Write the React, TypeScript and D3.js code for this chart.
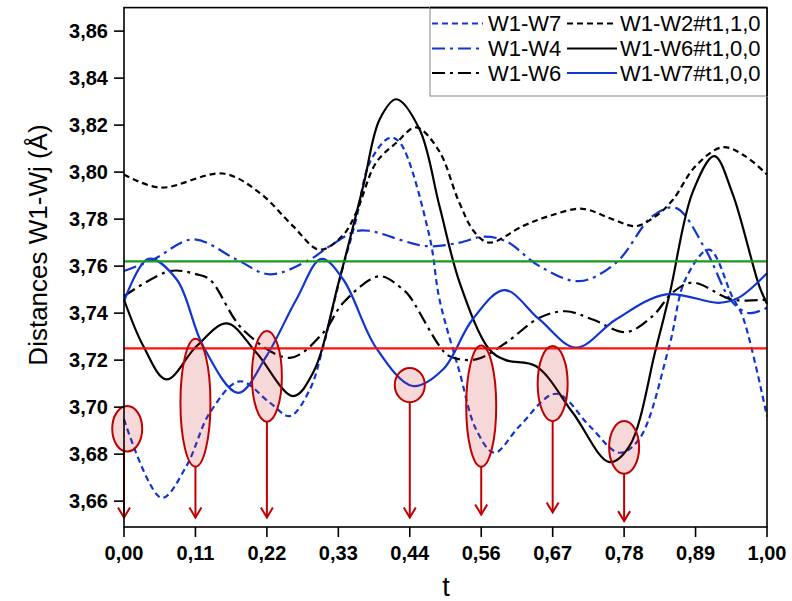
import React from "react";
import * as d3 from "d3";

// ---- data ----
const T_W1W7 = [0, 0.0585, 0.097, 0.1335, 0.18, 0.2267, 0.258, 0.289, 0.31, 0.3354, 0.361, 0.382, 0.413, 0.429, 0.475, 0.4907, 0.522, 0.5476, 0.576, 0.615, 0.672, 0.724, 0.77, 0.801, 0.848, 0.873, 0.91, 0.946, 0.962, 1.0];
const V_W1W7 = [3.6948, 3.6614, 3.6749, 3.6976, 3.711, 3.7019, 3.6962, 3.7075, 3.726, 3.7543, 3.7799, 3.804, 3.8146, 3.8126, 3.7728, 3.7458, 3.7148, 3.6905, 3.6806, 3.6919, 3.7057, 3.692, 3.6806, 3.6863, 3.726, 3.7543, 3.767, 3.747, 3.7387, 3.696];

const T_W1W4 = [0, 0.0455, 0.1077, 0.175, 0.2267, 0.289, 0.32, 0.361, 0.382, 0.47, 0.522, 0.558, 0.594, 0.646, 0.708, 0.765, 0.822, 0.858, 0.9045, 0.945, 0.972, 1.0];
const V_W1W4 = [3.7579, 3.7628, 3.7714, 3.7628, 3.7565, 3.7628, 3.7685, 3.7749, 3.775, 3.7685, 3.7700, 3.7725, 3.7706, 3.76, 3.7536, 3.7614, 3.7813, 3.7848, 3.767, 3.745, 3.740, 3.7423];

const T_W1W6 = [0, 0.0714, 0.113, 0.1335, 0.185, 0.258, 0.31, 0.341, 0.3975, 0.434, 0.4441, 0.4907, 0.506, 0.5476, 0.594, 0.646, 0.687, 0.729, 0.7806, 0.822, 0.853, 0.884, 0.946, 1.0];
const V_W1W6 = [3.7472, 3.7579, 3.7565, 3.7543, 3.733, 3.721, 3.7317, 3.7444, 3.7557, 3.75, 3.7472, 3.726, 3.7217, 3.7203, 3.7274, 3.738, 3.7408, 3.7373, 3.7319, 3.7387, 3.7487, 3.753, 3.7458, 3.7458];

const T_W1W2_110 = [0, 0.056, 0.154, 0.211, 0.263, 0.304, 0.34, 0.361, 0.392, 0.4235, 0.4545, 0.49, 0.52, 0.545, 0.568, 0.62, 0.661, 0.713, 0.76, 0.796, 0.827, 0.853, 0.889, 0.931, 0.966, 1.0];
const V_W1W2_110 = [3.799, 3.7934, 3.7994, 3.7912, 3.777, 3.767, 3.773, 3.7827, 3.804, 3.8125, 3.819, 3.809, 3.788, 3.7745, 3.770, 3.777, 3.7813, 3.7844, 3.7799, 3.777, 3.7813, 3.788, 3.8026, 3.8106, 3.8068, 3.799];

const T_W1W6_100 = [0, 0.03, 0.066, 0.113, 0.16, 0.206, 0.263, 0.294, 0.335, 0.372, 0.3975, 0.4235, 0.4596, 0.4907, 0.522, 0.568, 0.594, 0.641, 0.698, 0.755, 0.786, 0.827, 0.849, 0.884, 0.918, 0.946, 0.988, 1.0];
const V_W1W6_100 = [3.7458, 3.726, 3.7118, 3.726, 3.7356, 3.7231, 3.7047, 3.7146, 3.7543, 3.794, 3.8224, 3.831, 3.8182, 3.7855, 3.753, 3.7246, 3.720, 3.7174, 3.6976, 3.6766, 3.6834, 3.7246, 3.7487, 3.7912, 3.8068, 3.7912, 3.7515, 3.744];

const T_W1W7_100 = [0, 0.038, 0.082, 0.123, 0.1775, 0.2215, 0.268, 0.307, 0.341, 0.392, 0.449, 0.496, 0.542, 0.5916, 0.646, 0.703, 0.765, 0.843, 0.925, 0.956, 1.0];
const V_W1W7_100 = [3.745, 3.7631, 3.7543, 3.726, 3.7061, 3.7217, 3.7458, 3.7631, 3.7543, 3.7253, 3.709, 3.716, 3.7373, 3.7498, 3.7373, 3.7253, 3.7373, 3.748, 3.7444, 3.7466, 3.757];

const SERIES_NAMES = ["W1-W7", "W1-W4", "W1-W6", "W1-W2#t1,1,0", "W1-W6#t1,0,0", "W1-W7#t1,0,0"];

const GREEN_LEVEL = 3.762;
const RED_LEVEL = 3.725;

const X_TICKS = [0, 1 / 9, 2 / 9, 3 / 9, 4 / 9, 5 / 9, 6 / 9, 7 / 9, 8 / 9, 1];
const X_TICK_LABELS = ["0,00", "0,11", "0,22", "0,33", "0,44", "0,56", "0,67", "0,78", "0,89", "1,00"];
const Y_TICKS = [3.66, 3.68, 3.70, 3.72, 3.74, 3.76, 3.78, 3.80, 3.82, 3.84, 3.86];

// annotations (data coordinates)
const ELLIPSE_T = [0.005, 1 / 9, 2 / 9, 4 / 9, 5 / 9, 6 / 9, 7 / 9];
const ELLIPSE_V = [3.6908, 3.7019, 3.7131, 3.7094, 3.7004, 3.71, 3.6829];
const ELLIPSE_HALF = [0.0097, 0.0272, 0.0193, 0.0073, 0.0258, 0.016, 0.0112];
const ARROW_T = [0, 1 / 9, 2 / 9, 4 / 9, 5 / 9, 6 / 9, 7 / 9];
const ARROW_END = [3.653, 3.653, 3.653, 3.653, 3.6543, 3.6552, 3.6515];

const BLUE = "#1035d0";
const FONT = "'Liberation Sans', Arial, sans-serif";

export default function App() {
  const W = 792, H = 601;
  const x = d3.scaleLinear().domain([0, 1]).range([124, 767]);
  const y = d3.scaleLinear().domain([3.649, 3.870]).range([527, 7.6]);

  const line = d3
    .line<[number, number]>()
    .x((d) => x(d[0]))
    .y((d) => y(d[1]))
    .curve(d3.curveCatmullRom.alpha(0.5));

  const zip = (t: number[], v: number[]) => t.map((tt, i) => [tt, v[i]] as [number, number]);

  const series = [
    { name: SERIES_NAMES[0], d: zip(T_W1W7, V_W1W7), color: BLUE, dash: "6,4" },
    { name: SERIES_NAMES[1], d: zip(T_W1W4, V_W1W4), color: BLUE, dash: "13,5,3,5" },
    { name: SERIES_NAMES[2], d: zip(T_W1W6, V_W1W6), color: "#000", dash: "13,5,3,5" },
    { name: SERIES_NAMES[3], d: zip(T_W1W2_110, V_W1W2_110), color: "#000", dash: "6,4" },
    { name: SERIES_NAMES[4], d: zip(T_W1W6_100, V_W1W6_100), color: "#000", dash: "" },
    { name: SERIES_NAMES[5], d: zip(T_W1W7_100, V_W1W7_100), color: BLUE, dash: "" },
  ];

  const x0 = x.range()[0], x1 = x.range()[1];
  const yTop = y.range()[1], yBot = y.range()[0];
  const dark = "#c00000";

  // legend layout
  const legRows = [23.5, 48.5, 73];
  const legCols = [{ l0: 432, l1: 483, tx: 488 }, { l0: 567, l1: 617, tx: 620 }];

  return (
    <svg width={W} height={H} style={{ position: "absolute", left: 0, top: 0, background: "#fff" }} fontFamily={FONT}>
      <rect x={0} y={0} width={W} height={H} fill="#fff" />
      {/* curves */}
      {series.map((s, i) => (
        <path key={i} d={line(s.d) || ""} fill="none" stroke={s.color} strokeWidth={2.2} strokeDasharray={s.dash || undefined} />
      ))}
      {/* reference lines */}
      <line x1={x0} x2={x1} y1={y(GREEN_LEVEL)} y2={y(GREEN_LEVEL)} stroke="#1a9a1a" strokeWidth={2.2} />
      <line x1={x0} x2={x1} y1={y(RED_LEVEL)} y2={y(RED_LEVEL)} stroke="#ff1010" strokeWidth={2.2} />
      {/* ellipses + arrows */}
      {ELLIPSE_T.map((t, i) => {
        const cy = y(ELLIPSE_V[i]);
        const ry = y(ELLIPSE_V[i] - ELLIPSE_HALF[i]) - cy;
        const ax = x(ARROW_T[i]);
        const aEnd = y(ARROW_END[i]);
        return (
          <g key={i}>
            <ellipse cx={x(t)} cy={cy} rx={15} ry={ry} fill="rgba(205,40,40,0.18)" stroke={dark} strokeWidth={2} />
            <line x1={ax} x2={ax} y1={cy + ry} y2={aEnd} stroke={dark} strokeWidth={2} />
            <polyline points={`${ax - 6},${aEnd - 10} ${ax},${aEnd} ${ax + 6},${aEnd - 10}`} fill="none" stroke={dark} strokeWidth={2} />
          </g>
        );
      })}
      {/* frame */}
      <rect x={x0} y={yTop} width={x1 - x0} height={yBot - yTop} fill="none" stroke="#000" strokeWidth={1.6} />
      {/* y ticks */}
      {Y_TICKS.map((v, i) => (
        <g key={i}>
          <line x1={x0 - 10} x2={x0} y1={y(v)} y2={y(v)} stroke="#000" strokeWidth={1.6} />
          <text x={108} y={y(v)} dy="0.36em" textAnchor="end" fontSize={20} fontWeight="bold">
            {d3.format(".2f")(v).replace(".", ",")}
          </text>
        </g>
      ))}
      {/* x ticks */}
      {X_TICKS.map((t, i) => (
        <g key={i}>
          <line x1={x(t)} x2={x(t)} y1={yBot} y2={yBot + 10} stroke="#000" strokeWidth={1.6} />
          <text x={x(t)} y={560} textAnchor="middle" fontSize={20} fontWeight="bold">
            {X_TICK_LABELS[i]}
          </text>
        </g>
      ))}
      {/* axis titles */}
      <text x={446} y={596} textAnchor="middle" fontSize={27}>t</text>
      <text transform={`translate(47,${245}) rotate(-90)`} textAnchor="middle" fontSize={26}>
        Distances W1-Wj (Å)
      </text>
      {/* legend */}
      <rect x={430} y={yTop} width={x1 - 430} height={96 - yTop} fill="#fff" stroke="#999" strokeWidth={1.2} />
      <line x1={x1} x2={x1} y1={yTop} y2={96} stroke="#000" strokeWidth={1.6} />
      <line x1={430} x2={x1} y1={yTop} y2={yTop} stroke="#000" strokeWidth={1.6} />
      {series.map((s, i) => {
        const col = legCols[Math.floor(i / 3)];
        const ry = legRows[i % 3];
        return (
          <g key={i}>
            <line x1={col.l0} x2={col.l1} y1={ry} y2={ry} stroke={s.color} strokeWidth={2.2} strokeDasharray={s.dash || undefined} />
            <text x={col.tx} y={ry} dy="0.36em" fontSize={22}>{s.name}</text>
          </g>
        );
      })}
    </svg>
  );
}
